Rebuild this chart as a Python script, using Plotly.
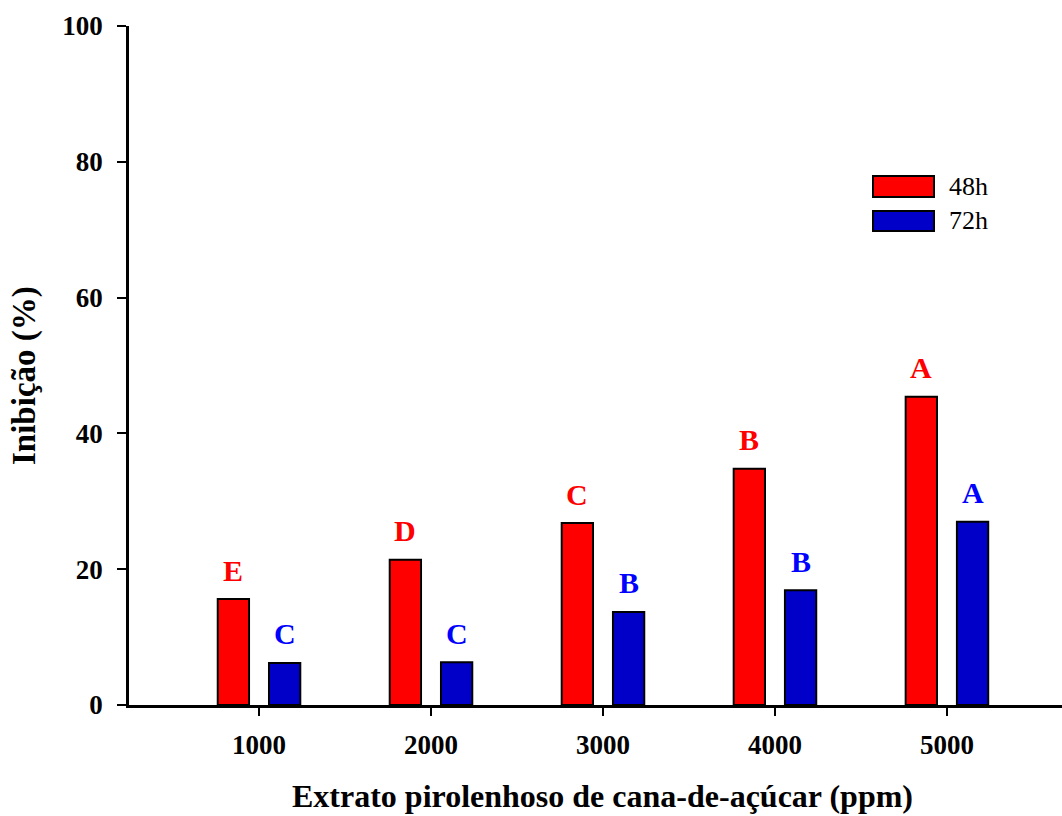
import plotly.graph_objects as go

# ---- data ----
concentrations = [1000, 2000, 3000, 4000, 5000]
tick_labels = ["1000", "2000", "3000", "4000", "5000"]
inhib_48h = [15.6, 21.4, 26.8, 34.8, 45.4]
inhib_72h = [6.2, 6.3, 13.7, 16.9, 27.0]
letters_48h = ["E", "D", "C", "B", "A"]
letters_72h = ["C", "C", "B", "B", "A"]
series_names = ["48h", "72h"]
x_title = "Extrato pirolenhoso de cana-de-açúcar (ppm)"
y_title = "Inibição (%)"

# ---- style ----
W, H = 1062, 816
ML, MR, MT, MB = 129, 0, 26, 111
FONT = "Liberation Serif, Times New Roman, serif"
RED_FILL, BLUE_FILL = "#FF0000", "#0000C8"
RED_TXT, BLUE_TXT = "#FF0000", "#0000FF"
BAR_W = 182
OFFSETS = [-240, 58]

fig = go.Figure()
for vals, fill, off, name in [(inhib_48h, RED_FILL, OFFSETS[0], series_names[0]),
                              (inhib_72h, BLUE_FILL, OFFSETS[1], series_names[1])]:
    fig.add_trace(go.Bar(
        x=concentrations, y=vals, width=BAR_W, offset=off, name=name,
        marker=dict(color=fill, line=dict(color="black", width=2)),
        showlegend=False,
    ))

annotations = []
for vals, letters, col, off in [(inhib_48h, letters_48h, RED_TXT, OFFSETS[0]),
                                (inhib_72h, letters_72h, BLUE_TXT, OFFSETS[1])]:
    for c, v, L in zip(concentrations, vals, letters):
        annotations.append(dict(
            x=c + off + BAR_W / 2, y=v, xref="x", yref="y", text=L,
            showarrow=False, yshift=29,
            font=dict(family=FONT, size=30, color=col, weight="bold"),
        ))

pw, ph = W - ML - MR, H - MT - MB
def px(x): return (x - ML) / pw
def py(y): return (H - MB - y) / ph

# legend (drawn manually to match the wide swatches)
shapes = []
for (y0, y1), fill, name in [((176, 197), RED_FILL, series_names[0]),
                             ((211, 231), BLUE_FILL, series_names[1])]:
    shapes.append(dict(type="rect", xref="paper", yref="paper",
                       x0=px(873), x1=px(934), y0=py(y1), y1=py(y0),
                       fillcolor=fill, line=dict(color="black", width=2)))
    annotations.append(dict(x=px(947), y=py((y0 + y1) / 2), xref="paper", yref="paper",
                            text=name, showarrow=False, xanchor="left", yanchor="middle",
                            font=dict(family=FONT, size=26, color="black")))

# axis titles
annotations.append(dict(x=px(602), y=py(796), xref="paper", yref="paper", text=x_title,
                        showarrow=False, xanchor="center", yanchor="middle", borderpad=0,
                        font=dict(family=FONT, size=32, color="black", weight="bold")))
annotations.append(dict(x=px(25), y=py(376), xref="paper", yref="paper", text=y_title,
                        showarrow=False, xanchor="center", yanchor="middle", textangle=-90,
                        borderpad=0,
                        font=dict(family=FONT, size=33, color="black", weight="bold")))

fig.update_layout(
    width=W, height=H,
    margin=dict(l=ML, r=MR, t=MT, b=MB, pad=0),
    plot_bgcolor="white", paper_bgcolor="white",
    annotations=annotations, shapes=shapes,
    font=dict(family=FONT, color="black"),
)
fig.update_xaxes(
    range=[244, 5669], tickmode="array", tickvals=concentrations, ticktext=tick_labels,
    showgrid=False, zeroline=False, showline=True, linecolor="black", linewidth=2.5,
    ticks="outside", ticklen=8, tickwidth=2, tickcolor="black",
    tickfont=dict(family=FONT, size=27, weight="bold"),
    ticklabelstandoff=6,
)
fig.update_yaxes(
    range=[0, 100], tickvals=[0, 20, 40, 60, 80, 100],
    showgrid=False, zeroline=False, showline=True, linecolor="black", linewidth=2.5,
    ticks="outside", ticklen=9, tickwidth=2, tickcolor="black",
    tickfont=dict(family=FONT, size=27, weight="bold"),
    ticklabelstandoff=9,
)

fig.write_html("out.html")
